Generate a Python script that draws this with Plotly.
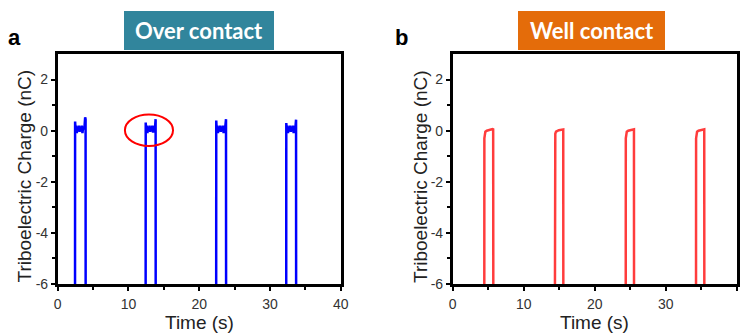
import plotly.graph_objects as go

# ---------------- data ----------------
over_time = [0, 2.45, 2.46, 2.52, 2.6, 2.7, 2.8, 2.9, 3.0, 3.1, 3.2, 3.3, 3.4, 3.5, 3.6, 3.7, 3.8, 3.88, 3.94, 3.95,
             12.43, 12.44, 12.5, 12.58, 12.68, 12.78, 12.88, 12.98, 13.08, 13.18, 13.28, 13.38, 13.48, 13.58, 13.68, 13.78, 13.84, 13.85,
             22.4, 22.41, 22.47, 22.55, 22.65, 22.75, 22.85, 22.95, 23.05, 23.15, 23.25, 23.35, 23.45, 23.55, 23.65, 23.72, 23.79, 23.8,
             32.3, 32.31, 32.37, 32.45, 32.55, 32.65, 32.75, 32.85, 32.95, 33.05, 33.15, 33.25, 33.35, 33.45, 33.55, 33.62, 33.69, 33.7, 40]
over_charge = [-6.3, -6.3, 0.36, 0.05, 0.2, -0.1, 0.15, 0.0, 0.2, -0.05, 0.15, 0.0, 0.2, -0.1, 0.15, 0.05, 0.2, 0.52, 0.45, -6.3,
               -6.3, 0.32, 0.05, 0.2, -0.1, 0.15, -0.02, 0.2, -0.05, 0.15, 0.0, 0.2, -0.08, 0.15, 0.05, 0.22, 0.45, -6.3,
               -6.3, 0.4, 0.05, 0.2, -0.1, 0.15, 0.0, 0.2, -0.05, 0.15, 0.0, 0.2, -0.1, 0.15, 0.05, 0.2, 0.45, -6.3,
               -6.3, 0.3, 0.05, 0.2, -0.1, 0.15, 0.0, 0.2, -0.05, 0.15, 0.0, 0.2, -0.1, 0.15, 0.05, 0.2, 0.43, -6.3, -6.3]

well_time = [0, 4.45, 4.46, 4.5, 4.6, 4.8, 5.0, 5.2, 5.4, 5.6, 5.7, 5.72,
             14.4, 14.41, 14.45, 14.55, 14.75, 14.95, 15.15, 15.35, 15.5, 15.57, 15.58,
             24.37, 24.38, 24.42, 24.52, 24.72, 24.92, 25.12, 25.32, 25.46, 25.53, 25.54,
             34.27, 34.28, 34.32, 34.42, 34.62, 34.82, 35.02, 35.22, 35.36, 35.43, 35.44, 40]
well_charge = [-6.3, -6.3, -0.3, -0.12, -0.04, 0.0, 0.02, 0.03, 0.05, 0.06, 0.05, -6.3,
               -6.3, -0.3, -0.12, -0.04, 0.0, 0.02, 0.03, 0.05, 0.06, 0.05, -6.3,
               -6.3, -0.3, -0.12, -0.04, 0.0, 0.02, 0.03, 0.05, 0.06, 0.05, -6.3,
               -6.3, -0.3, -0.12, -0.04, 0.0, 0.02, 0.03, 0.05, 0.06, 0.05, -6.3, -6.3]

x_ticks = [0, 10, 20, 30, 40]
x_ticklabels = ["0", "10", "20", "30", "40"]
y_ticks = [-6, -4, -2, 0, 2]
y_ticklabels = ["-6", "-4", "-2", "0", "2"]
panel_titles = ["Over contact", "Well contact"]
panel_letters = ["a", "b"]

# ---------------- figure ----------------
W, H = 743, 333
def px(x):
    return x / W
def py(y):
    return 1 - y / H

fig = go.Figure()
fig.add_trace(go.Scatter(x=over_time, y=over_charge, mode="lines",
                         line=dict(color="#0000FF", width=2.5), xaxis="x", yaxis="y", showlegend=False))
fig.add_trace(go.Scatter(x=well_time, y=well_charge, mode="lines",
                         line=dict(color="#FF3C3C", width=2.5), xaxis="x2", yaxis="y2", showlegend=False))

tickfont = dict(family="Liberation Sans, Arial", size=14, color="#333333")
axis_common = dict(showline=True, linecolor="black", linewidth=2.5, mirror=True,
                   ticks="outside", ticklen=4, tickwidth=2, tickcolor="black",
                   showgrid=False, zeroline=False, tickfont=tickfont, automargin=False)

yd = [py(284), py(54)]
fig.update_layout(
    width=W, height=H, margin=dict(l=0, r=0, t=0, b=0),
    paper_bgcolor="white", plot_bgcolor="white",
    xaxis=dict(domain=[px(57.7), px(340.7)], range=[0, 40], tickvals=x_ticks, ticktext=x_ticklabels,
               anchor="y", ticklabelstandoff=1, **axis_common),
    yaxis=dict(domain=yd, range=[-6, 3], tickvals=y_ticks, ticktext=y_ticklabels, anchor="x",
               ticklabelstandoff=0, **axis_common),
    xaxis2=dict(domain=[px(452.7), px(736.7)], range=[0, 40], tickvals=x_ticks, ticktext=x_ticklabels,
                anchor="y2", ticklabelstandoff=1, **axis_common),
    yaxis2=dict(domain=yd, range=[-6, 3], tickvals=y_ticks, ticktext=y_ticklabels, anchor="x2",
                ticklabelstandoff=0, **axis_common),
)
minor_x = dict(ticks="outside", ticklen=3, tickwidth=1.5, tickcolor="black", tickvals=[5, 15, 25, 35])
minor_y = dict(ticks="outside", ticklen=3, tickwidth=1.5, tickcolor="black", tickvals=[-5, -3, -1, 1])
fig.update_layout(xaxis_minor=minor_x, xaxis2_minor=minor_x, yaxis_minor=minor_y, yaxis2_minor=minor_y)

# title boxes
boxes = [(124, 274, "#31859C", 199), (518, 665, "#E46C0A", 591.5)]
for (x0, x1, col, cx), title in zip(boxes, panel_titles):
    fig.add_shape(type="rect", xref="paper", yref="paper", x0=px(x0), x1=px(x1), y0=py(50), y1=py(11),
                  fillcolor=col, line=dict(width=0), layer="below")
    fig.add_annotation(xref="paper", yref="paper", x=px(cx), y=py(30.5), text=title, showarrow=False,
                       font=dict(family="Lato, Open Sans", size=22, color="white", weight="bold"),
                       xanchor="center", yanchor="middle")

# panel letters
for (lx, ly), letter in zip([(15, 38), (401, 37)], panel_letters):
    fig.add_annotation(xref="paper", yref="paper", x=px(lx), y=py(ly), text=letter, showarrow=False,
                       font=dict(family="Liberation Sans, Arial", size=22, color="black", weight="bold"),
                       xanchor="center", yanchor="middle")

# axis titles
for xc in [24, 420.5]:
    fig.add_annotation(xref="paper", yref="paper", x=px(xc), y=py(176.5), text="Triboelectric Charge (nC)",
                       textangle=-90, showarrow=False, xanchor="center", yanchor="middle",
                       font=dict(family="Liberation Sans, Arial", size=19, color="#222222"))
for xc in [199.2, 594.7]:
    fig.add_annotation(xref="paper", yref="paper", x=px(xc), y=py(322), text="Time (s)",
                       showarrow=False, xanchor="center", yanchor="middle",
                       font=dict(family="Liberation Sans, Arial", size=19, color="#222222"))

# red highlight ellipse
fig.add_shape(type="circle", xref="x", yref="y", x0=9.5, x1=16.3, y0=-0.6, y1=0.63,
              line=dict(color="#FF0000", width=2))

fig.write_html("out.html", config={"displayModeBar": False},
               post_script="document.body.style.margin='0';")
